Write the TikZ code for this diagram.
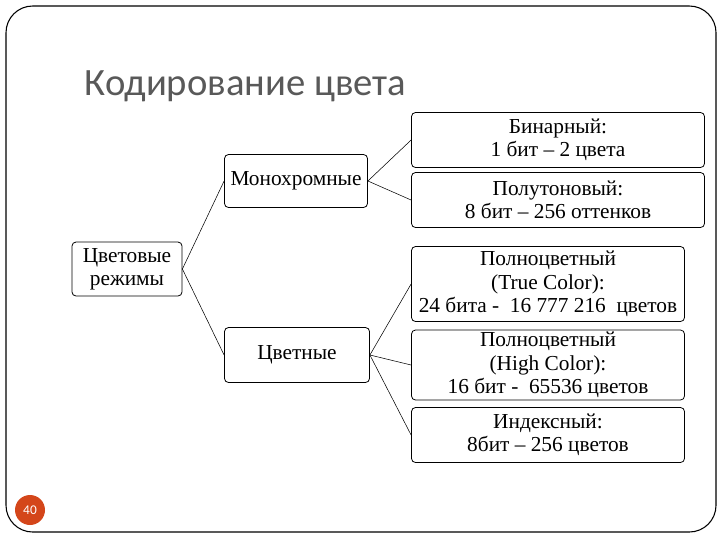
\documentclass[tikz,border=0pt]{standalone}
\usepackage{fontspec}
\setmainfont{Liberation Serif}
\newfontfamily\titlefont{Carlito}
\definecolor{pg}{HTML}{D4461A}
\begin{document}
\begin{tikzpicture}[x=0.75pt,y=-0.75pt,
  bx/.style={draw,rounded corners=3pt,line width=0.6pt,align=center,font=\fontsize{16}{17.5}\selectfont,inner sep=0pt,fill=white},
  ln/.style={line width=0.4pt}]
\useasboundingbox (0,0) rectangle (720,540);
\draw[line width=0.8pt,rounded corners=20pt] (6,6) rectangle (716,532);
\node[anchor=base west,font=\titlefont\fontsize{29}{31}\selectfont,text=black!65] (t) at (80,95) {Кодирование цвета};
\node[bx,minimum width=110*0.75pt,minimum height=54*0.75pt] (r) at (127,269) {Цветовые\\режимы};
\node[bx,minimum width=143*0.75pt,minimum height=53*0.75pt] (m) at (296,181) {Монохромные};
\node[bx,minimum width=145*0.75pt,minimum height=55*0.75pt] (c) at (297,355) {Цветные};
\node[bx,minimum width=293*0.75pt,minimum height=55*0.75pt] (b) at (558,140) {Бинарный:\\1 бит – 2 цвета};
\node[bx,minimum width=293*0.75pt,minimum height=55*0.75pt] (g) at (558,200) {Полутоновый:\\8 бит – 256 оттенков};
\node[bx,minimum width=273*0.75pt,minimum height=75*0.75pt] (tc) at (548,284) {Полноцветный\\(True Color):\\24 бита -\ \ 16 777 216\ \ цветов};
\node[bx,minimum width=273*0.75pt,minimum height=70*0.75pt] (hc) at (548,365) {Полноцветный\\(High Color):\\16 бит -\ \ 65536 цветов};
\node[bx,minimum width=273*0.75pt,minimum height=55*0.75pt] (ix) at (548,435) {Индексный:\\8бит – 256 цветов};
\foreach \a/\b in {r/m,r/c,m/b,m/g,c/tc,c/hc,c/ix} \draw[ln] (\a.east) -- (\b.west);
\node[circle,fill=pg,minimum size=30*0.75pt,inner sep=0pt,text=white,font=\titlefont\fontsize{10}{12}\selectfont] (p) at (30,510) {40};
\end{tikzpicture}
\end{document}
